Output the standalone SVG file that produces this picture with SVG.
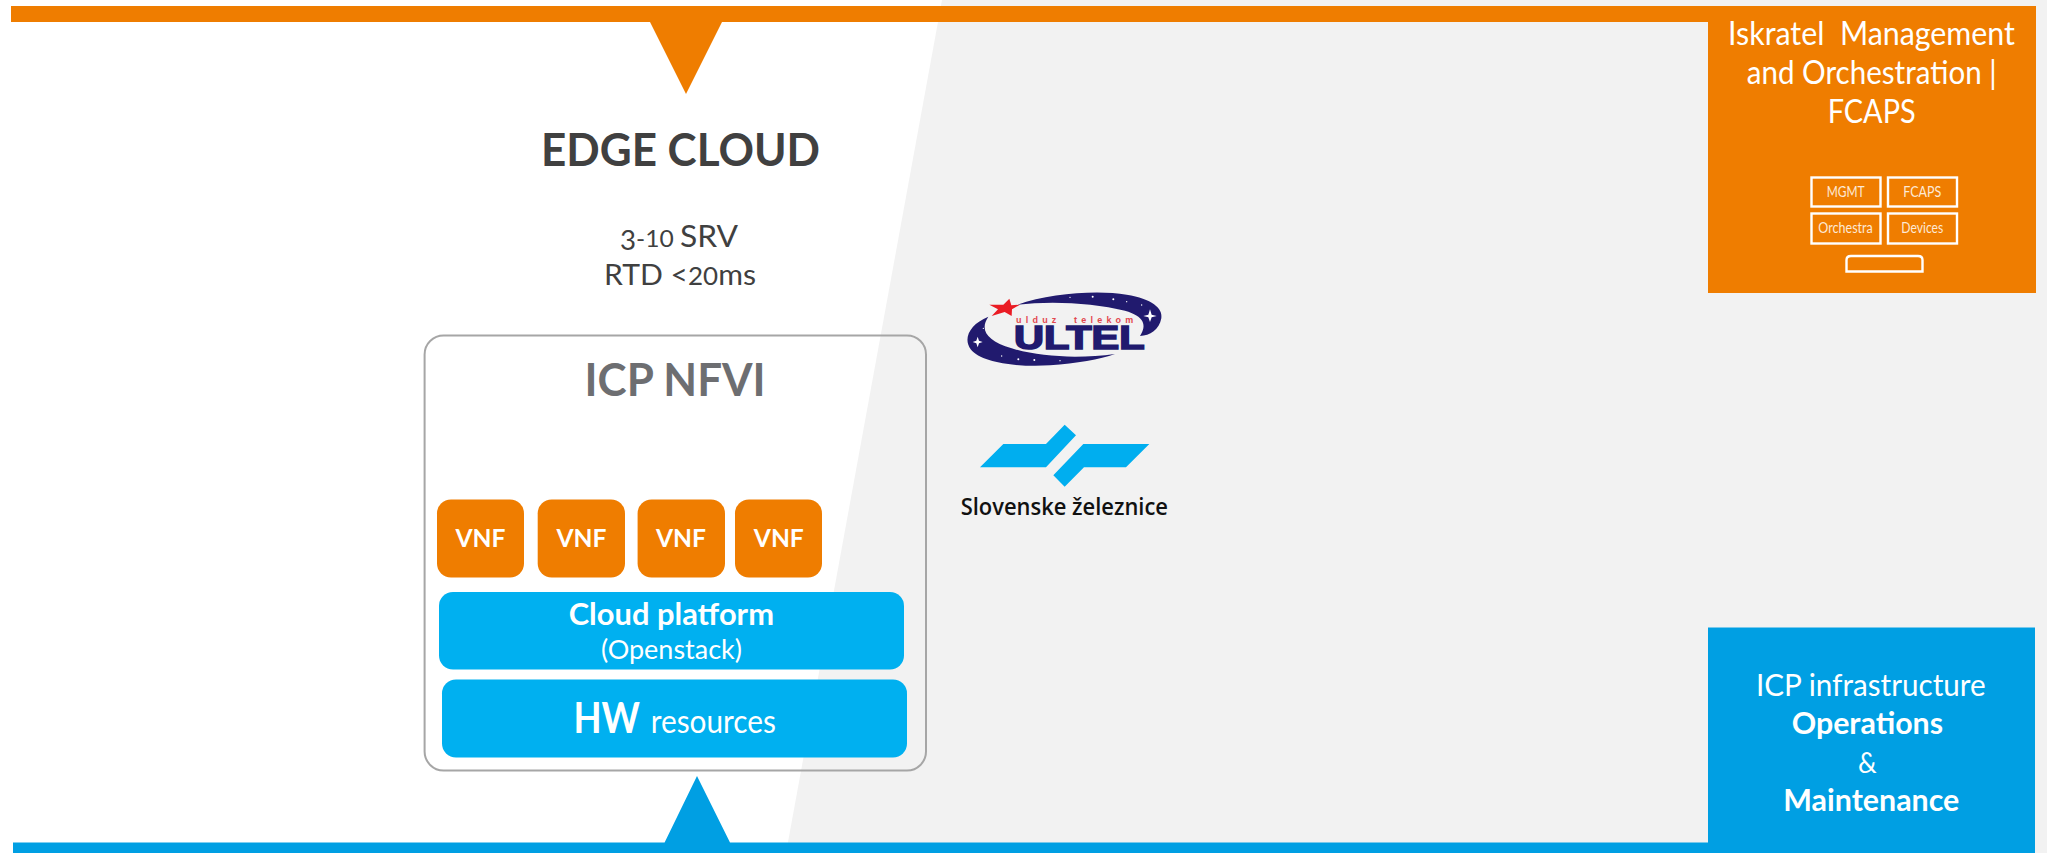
<svg xmlns="http://www.w3.org/2000/svg" width="2047" height="853" viewBox="0 0 2047 853">
<style>
text{font-family:Lato,"Open Sans","Liberation Sans",sans-serif;white-space:pre}
.w{fill:#fff}.b{font-weight:700}
.o{fill:#ef7d00}.c{fill:#00b0f0}.d{fill:#009fe3}
.mini{fill:none;stroke:#fff;stroke-width:2.4}
.mt{fill:#fde9d6;font-size:14.5px}
</style>
<g id="background">
<rect width="2047" height="853" fill="#f2f2f2"/>
<polygon points="0,0 942,0 786,853 0,853" fill="#fff"/>
</g>
<g id="top-bar"><path class="o" d="M11 6H1708V22H722L686 94 650 22H11Z"/></g>
<g id="bottom-bar"><path class="d" d="M13 853V842.5H664.6L697 776 730 842.5H1708V853Z"/></g>
<g id="edge-title">
<text x="541" y="166" font-size="46" class="b" fill="#404040" textLength="279" lengthAdjust="spacingAndGlyphs">EDGE CLOUD</text>
<text x="620" y="246.7" font-size="31" fill="#404040" textLength="118" lengthAdjust="spacingAndGlyphs"><tspan dy="3.5" font-size="27">3</tspan><tspan dy="-3.5" font-size="24">-10 </tspan>SRV</text>
<text x="604" y="285" font-size="29" fill="#404040" textLength="152" lengthAdjust="spacingAndGlyphs">RTD &lt;<tspan font-size="25">20</tspan>ms</text>
</g>
<g id="icp-nfvi">
<rect x="424.6" y="335.5" width="501.4" height="435" rx="19" fill="none" stroke="#a6a6a6" stroke-width="2"/>
<text x="584.6" y="396" font-size="46" class="b" fill="#6d6e71" textLength="181" lengthAdjust="spacingAndGlyphs">ICP NFVI</text>
</g>
<g id="vnf-1"><rect class="o" x="437" y="499.5" width="87" height="78" rx="14"/><text class="w b" x="480.5" y="547" font-size="25" text-anchor="middle" textLength="50" lengthAdjust="spacingAndGlyphs">VNF</text></g>
<g id="vnf-2"><rect class="o" x="537.7" y="499.5" width="87.3" height="78" rx="14"/><text class="w b" x="581.5" y="547" font-size="25" text-anchor="middle" textLength="50" lengthAdjust="spacingAndGlyphs">VNF</text></g>
<g id="vnf-3"><rect class="o" x="637.6" y="499.5" width="87.4" height="78" rx="14"/><text class="w b" x="681" y="547" font-size="25" text-anchor="middle" textLength="50" lengthAdjust="spacingAndGlyphs">VNF</text></g>
<g id="vnf-4"><rect class="o" x="735" y="499.5" width="87" height="78" rx="14"/><text class="w b" x="778.8" y="547" font-size="25" text-anchor="middle" textLength="50" lengthAdjust="spacingAndGlyphs">VNF</text></g>
<g id="cloud-platform">
<rect class="c" x="439" y="592" width="465" height="77.5" rx="14"/>
<text class="w b" x="568.7" y="625" font-size="31" textLength="205.3" lengthAdjust="spacingAndGlyphs">Cloud platform</text>
<text class="w" x="601" y="659" font-size="26.5" textLength="141" lengthAdjust="spacingAndGlyphs">(Openstack)</text>
</g>
<g id="hw-resources">
<rect class="c" x="442" y="679.5" width="465" height="78" rx="14"/>
<text class="w b" x="573.5" y="733" font-size="42" textLength="66.5" lengthAdjust="spacingAndGlyphs">HW</text>
<text class="w" x="650.7" y="733" font-size="32" textLength="125.3" lengthAdjust="spacingAndGlyphs">resources</text>
</g>
<g id="ultel-logo" transform="translate(940 280) scale(.33333)">
<g fill="#211a6e">
<path d="M232 74C330 40 470 30 560 44C635 56 670 85 664 115C658 148 630 168 600 168C622 135 612 108 555 92C460 68 330 62 232 74Z"/>
<path d="M145 110C90 132 68 175 92 208C125 250 240 262 330 256C410 250 480 238 525 222C420 236 300 232 215 205C140 182 118 150 145 110Z"/>
</g>
<g fill="#fff">
<path d="M630 88L635 104 650 108 635 112 630 126 625 112 610 108 625 104Z"/>
<path d="M113 170L117 182 128 186 117 190 113 202 109 190 98 186 109 182Z"/>
<circle cx="458" cy="50" r="3"/><circle cx="520" cy="58" r="3"/><circle cx="390" cy="52" r="2"/><circle cx="560" cy="65" r="2"/><circle cx="605" cy="75" r="2"/><circle cx="283" cy="240" r="3"/><circle cx="235" cy="238" r="3"/><circle cx="360" cy="242" r="2"/><circle cx="185" cy="228" r="2"/><circle cx="130" cy="145" r="2"/>
</g>
<polygon points="208,56 214,76 240,74 216,88 215,108 194,96 155,108 174,88 148,74 190,74" fill="#ea1c24"/>
<text x="228" y="130" font-size="27" font-weight="700" fill="#e2474f" textLength="352" lengthAdjust="spacing" style="font-family:'Liberation Sans',sans-serif">ulduz  telekom</text>
<text x="222" y="206" font-size="98" font-weight="700" fill="#211a6e" stroke="#211a6e" stroke-width="5" textLength="392" lengthAdjust="spacingAndGlyphs" style="font-family:'Liberation Sans',sans-serif">ULTEL</text>
</g>
<g id="sz-logo" transform="translate(940 280) scale(.33333)">
<polygon fill="#00aeef" points="120,562 190,492 318,492 374,434 408,466 318,562"/>
<polygon fill="#00aeef" points="430,492 628,492 558,562 432,562 374,620 340,586"/>
<text x="62" y="706" font-size="72" font-weight="600" fill="#111" textLength="622" lengthAdjust="spacingAndGlyphs" style="font-family:'Open Sans',sans-serif">Slovenske železnice</text>
</g>
<g id="management-box">
<rect class="o" x="1708" y="6" width="328" height="287"/>
<text class="w" x="1728" y="45" font-size="32" textLength="287" lengthAdjust="spacingAndGlyphs">Iskratel  Management</text>
<text class="w" x="1746.7" y="84" font-size="32" textLength="250" lengthAdjust="spacingAndGlyphs">and Orchestration |</text>
<text class="w" x="1827.7" y="122.7" font-size="32" textLength="88" lengthAdjust="spacingAndGlyphs">FCAPS</text>
<rect class="mini" x="1811.5" y="177.5" width="69" height="29"/>
<rect class="mini" x="1888" y="177.5" width="69" height="29"/>
<rect class="mini" x="1811.5" y="213.5" width="69" height="30"/>
<rect class="mini" x="1888" y="213.5" width="69" height="30"/>
<path class="mini" d="M1846.5 271.5V260Q1846.5 256 1851 256H1918Q1922.5 256 1922.5 260V271.5Z"/>
<text class="mt" x="1826.7" y="197" textLength="38" lengthAdjust="spacingAndGlyphs">MGMT</text>
<text class="mt" x="1903.3" y="197" textLength="38" lengthAdjust="spacingAndGlyphs">FCAPS</text>
<text class="mt" x="1818.3" y="233" textLength="54.5" lengthAdjust="spacingAndGlyphs">Orchestra</text>
<text class="mt" x="1901.3" y="233" textLength="42" lengthAdjust="spacingAndGlyphs">Devices</text>
</g>
<g id="operations-box">
<rect class="d" x="1708" y="627.5" width="327" height="225.5"/>
<text class="w" x="1756" y="696" font-size="30.5" textLength="229.7" lengthAdjust="spacingAndGlyphs">ICP infrastructure</text>
<text class="w b" x="1791.7" y="734" font-size="30" textLength="151.3" lengthAdjust="spacingAndGlyphs">Operations</text>
<text class="w" x="1858" y="772.7" font-size="28" textLength="18.7" lengthAdjust="spacingAndGlyphs">&amp;</text>
<text class="w b" x="1783.3" y="810.7" font-size="30" textLength="176" lengthAdjust="spacingAndGlyphs">Maintenance</text>
</g>
<g id="connectors"/>
</svg>
